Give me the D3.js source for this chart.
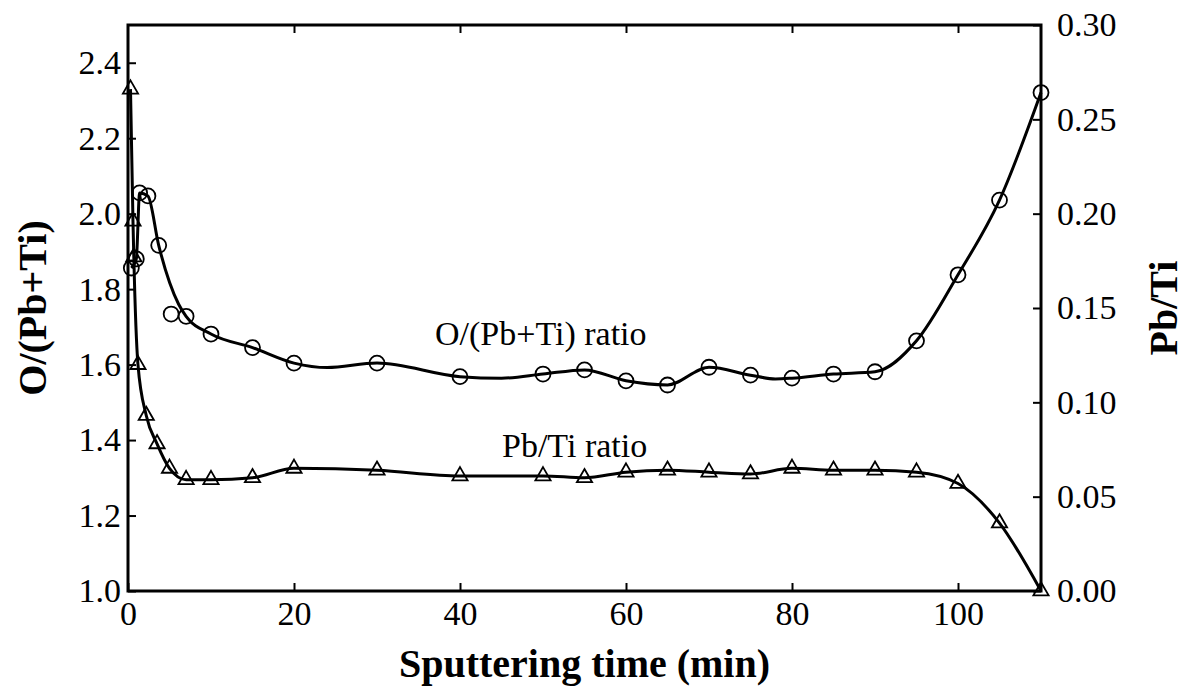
<!DOCTYPE html>
<html lang="en">
<head>
  <meta charset="UTF-8" />
  <title>O/(Pb+Ti) and Pb/Ti ratio vs sputtering time</title>
  <style>
    body {
      margin: 0;
      background: #fff;
    }
    svg {
      display: block;
      font-family: 'Liberation Serif', 'Times New Roman', serif;
    }
    .axis line {
      stroke: #000;
      stroke-width: 2;
    }
    .axis text {
      font-family: 'Liberation Serif', 'Times New Roman', serif;
      font-size: 34px;
      fill: #000;
    }
    .axis-title {
      font-size: 40px;
      font-weight: bold;
      fill: #000;
    }
    .note {
      font-size: 34px;
      fill: #000;
    }
  </style>
</head>
<body>
  <svg id="chart" width="1190" height="688"></svg>

  <script src="https://d3js.org/d3.v7.min.js"></script>
  <script>
    // O/(Pb+Ti) measured points (circles, left axis)
    const oTime  = [0.4, 1.0, 1.4, 2.4, 3.7, 5.2, 7, 10, 15, 20, 30, 40, 50, 55, 60, 65, 70, 75, 80, 85, 90, 95, 100, 105, 110];
    const oRatio = [1.856, 1.88, 2.055, 2.047, 1.916, 1.734, 1.728, 1.681, 1.645, 1.604, 1.604, 1.568, 1.575, 1.586,
                    1.557, 1.546, 1.593, 1.572, 1.564, 1.575, 1.581, 1.663, 1.838, 2.036, 2.321];

    // smoothed curve drawn through the O/(Pb+Ti) points
    const oFitTime  = [0.4, 1.0, 1.4, 2.4, 3.7, 6.1, 7, 10, 15, 20, 24, 30, 40, 45, 50, 55, 60, 65, 70, 75, 78, 80, 85, 90, 95, 100, 105, 110];
    const oFitRatio = [1.856, 1.88, 2.055, 2.047, 1.916, 1.76, 1.728, 1.681, 1.645, 1.604, 1.592, 1.604, 1.568, 1.564,
                       1.575, 1.586, 1.557, 1.546, 1.593, 1.572, 1.562, 1.564, 1.575, 1.581, 1.663, 1.838, 2.036, 2.321];

    // Pb/Ti measured points (triangles, right axis)
    const pbTime  = [0.3, 0.6, 0.7, 1.2, 2.2, 3.5, 5, 7, 10, 15, 20, 30, 40, 50, 55, 60, 65, 70, 75, 80, 85, 90, 95, 100, 105, 110];
    const pbRatio = [0.266, 0.196, 0.177, 0.120, 0.093, 0.078, 0.065, 0.059, 0.059, 0.060, 0.065, 0.064, 0.061, 0.061,
                     0.060, 0.063, 0.064, 0.063, 0.062, 0.065, 0.064, 0.064, 0.063, 0.057, 0.036, 0.0];

    // tick values
    const xTicks     = [0, 20, 40, 60, 80, 100];
    const leftTicks  = [1.0, 1.2, 1.4, 1.6, 1.8, 2.0, 2.2, 2.4];
    const rightTicks = [0, 0.05, 0.10, 0.15, 0.20, 0.25, 0.30];

    const svg = d3.select("#chart");
    const margin = { top: 25, right: 149, bottom: 97, left: 128 };
    const width = +svg.attr("width") - margin.left - margin.right;
    const height = +svg.attr("height") - margin.top - margin.bottom;

    const g = svg.append("g")
      .attr("transform", `translate(${margin.left},${margin.top})`);

    const x = d3.scaleLinear().domain([0, 110]).range([0, width]);
    const yLeft = d3.scaleLinear().domain([1.0, 2.5]).range([height, 0]);
    const yRight = d3.scaleLinear().domain([0, 0.30]).range([height, 0]);

    // axes, ticks pointing inward
    g.append("g")
      .attr("class", "axis")
      .attr("transform", `translate(0,${height})`)
      .call(d3.axisBottom(x).tickValues(xTicks).tickSize(-8).tickPadding(10).tickFormat(d3.format("d")))
      .call(a => a.select(".domain").remove());

    g.append("g")
      .attr("class", "axis")
      .call(d3.axisTop(x).tickValues(xTicks.slice(1)).tickSize(-8).tickFormat(""))
      .call(a => a.select(".domain").remove());

    g.append("g")
      .attr("class", "axis")
      .call(d3.axisLeft(yLeft).tickValues(leftTicks).tickSize(-8).tickPadding(7).tickFormat(d3.format(".1f")))
      .call(a => a.select(".domain").remove());

    g.append("g")
      .attr("class", "axis")
      .attr("transform", `translate(${width},0)`)
      .call(d3.axisRight(yRight).tickValues(rightTicks).tickSize(-8).tickPadding(16).tickFormat(d3.format(".2f")))
      .call(a => a.select(".domain").remove());

    // plot frame
    g.append("rect")
      .attr("width", width)
      .attr("height", height)
      .attr("fill", "none")
      .attr("stroke", "#000")
      .attr("stroke-width", 3);

    // axis titles
    svg.append("text")
      .attr("class", "axis-title")
      .attr("x", margin.left + width / 2)
      .attr("y", 677)
      .attr("text-anchor", "middle")
      .text("Sputtering time (min)");

    svg.append("text")
      .attr("class", "axis-title")
      .attr("transform", `translate(46,${margin.top + height / 2}) rotate(-90)`)
      .attr("text-anchor", "middle")
      .text("O/(Pb+Ti)");

    svg.append("text")
      .attr("class", "axis-title")
      .attr("transform", `translate(1177,${margin.top + height / 2}) rotate(-90)`)
      .attr("text-anchor", "middle")
      .text("Pb/Ti");

    // curves
    const oFit = oFitTime.map((t, i) => ({ t, v: oFitRatio[i] }));
    const oPts = oTime.map((t, i) => ({ t, v: oRatio[i] }));
    const pbPts = pbTime.map((t, i) => ({ t, v: pbRatio[i] }));

    g.append("path")
      .datum(oFit)
      .attr("fill", "none")
      .attr("stroke", "#000")
      .attr("stroke-width", 3)
      .attr("d", d3.line().x(d => x(d.t)).y(d => yLeft(d.v)).curve(d3.curveMonotoneX));

    g.append("path")
      .datum(pbPts)
      .attr("fill", "none")
      .attr("stroke", "#000")
      .attr("stroke-width", 3)
      .attr("d", d3.line().x(d => x(d.t)).y(d => yRight(d.v)).curve(d3.curveMonotoneX));

    // markers
    g.selectAll(".circ")
      .data(oPts)
      .join("circle")
      .attr("class", "circ")
      .attr("cx", d => x(d.t))
      .attr("cy", d => yLeft(d.v))
      .attr("r", 7.5)
      .attr("fill", "none")
      .attr("stroke", "#000")
      .attr("stroke-width", 1.8);

    const tri = d3.symbol().type(d3.symbolTriangle).size(100);
    g.selectAll(".tri")
      .data(pbPts)
      .join("path")
      .attr("class", "tri")
      .attr("transform", d => `translate(${x(d.t)},${yRight(d.v)})`)
      .attr("d", tri)
      .attr("fill", "none")
      .attr("stroke", "#000")
      .attr("stroke-width", 1.8);

    // in-plot labels
    svg.append("text").attr("class", "note").attr("x", 435).attr("y", 345).text("O/(Pb+Ti) ratio");
    svg.append("text").attr("class", "note").attr("x", 502).attr("y", 457).text("Pb/Ti ratio");
  </script>
</body>
</html>
